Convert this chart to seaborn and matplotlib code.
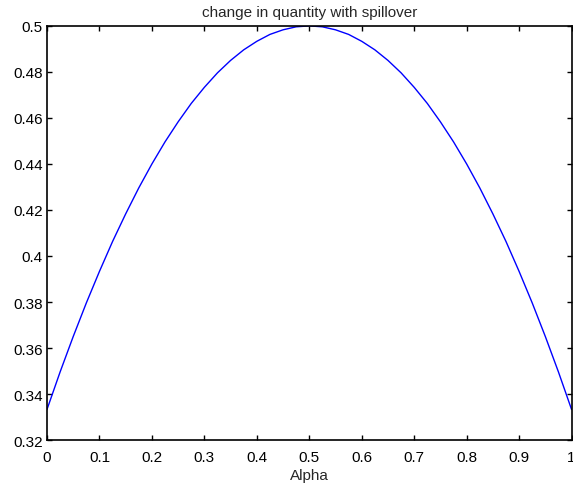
import pandas as pd
import seaborn as sns
import matplotlib.pyplot as plt

# values
alpha = [0.0, 0.025, 0.05, 0.075, 0.1, 0.125, 0.15, 0.175, 0.2, 0.225,
         0.25, 0.275, 0.3, 0.325, 0.35, 0.375, 0.4, 0.425, 0.45, 0.475,
         0.5, 0.525, 0.55, 0.575, 0.6, 0.625, 0.65, 0.675, 0.7, 0.725,
         0.75, 0.775, 0.8, 0.825, 0.85, 0.875, 0.9, 0.925, 0.95, 0.975, 1.0]
change = [0.3333, 0.3496, 0.3650, 0.3796, 0.3933, 0.4063, 0.4183, 0.4296, 0.4400, 0.4496,
          0.4583, 0.4663, 0.4733, 0.4796, 0.4850, 0.4896, 0.4933, 0.4963, 0.4983, 0.4996,
          0.5000, 0.4996, 0.4983, 0.4963, 0.4933, 0.4896, 0.4850, 0.4796, 0.4733, 0.4663,
          0.4583, 0.4496, 0.4400, 0.4296, 0.4183, 0.4063, 0.3933, 0.3796, 0.3650, 0.3496, 0.3333]
xticks = [0, 0.1, 0.2, 0.3, 0.4, 0.5, 0.6, 0.7, 0.8, 0.9, 1]
xticklabels = ["0", "0.1", "0.2", "0.3", "0.4", "0.5", "0.6", "0.7", "0.8", "0.9", "1"]
yticks = [0.32, 0.34, 0.36, 0.38, 0.40, 0.42, 0.44, 0.46, 0.48, 0.50]
yticklabels = ["0.32", "0.34", "0.36", "0.38", "0.4", "0.42", "0.44", "0.46", "0.48", "0.5"]

df = pd.DataFrame({"Alpha": alpha, "change": change})

sns.set_style("ticks")
plt.rcParams["font.family"] = ["Liberation Sans", "DejaVu Sans"]
plt.rcParams["font.size"] = 11

fig = plt.figure(figsize=(5.73, 4.89), dpi=100)
ax = fig.add_axes([0.082, 0.098, 0.9155, 0.847])

sns.lineplot(data=df, x="Alpha", y="change", color="#0000ff", linewidth=1.0, ax=ax)

ax.set_xlim(0, 1)
ax.set_ylim(0.32, 0.5)
ax.set_xticks(xticks)
ax.set_xticklabels(xticklabels)
ax.set_yticks(yticks)
ax.set_yticklabels(yticklabels)
ax.tick_params(direction="in", length=3.6, width=1, top=True, right=True,
               labelsize=11, colors="black")
ax.tick_params(axis="x", pad=7)
ax.tick_params(axis="y", pad=3)
for s in ax.spines.values():
    s.set_visible(True)
    s.set_color("black")
    s.set_linewidth(1.2)

ax.set_xlabel("Alpha", fontsize=11, labelpad=3)
ax.set_ylabel("")
ax.set_title("change in quantity with spillover", fontsize=11, pad=7)

fig.savefig("out.png", dpi=100, facecolor="white")
